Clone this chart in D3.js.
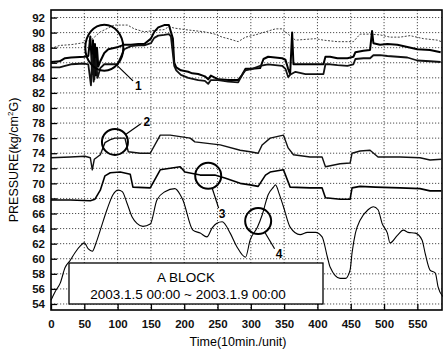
<!DOCTYPE html>
<html>
<head>
<meta charset="utf-8">
<script src="https://cdn.jsdelivr.net/npm/d3@7"></script>
<style>
    body { margin: 0; background: #fff; }
    svg { display: block; font-family: "Liberation Sans", Arial, sans-serif; }
    .grid line { stroke: #222; stroke-width: 0.8; stroke-dasharray: 1.2,1.8; }
    .tickText { font-size: 11.5px; font-weight: bold; fill: #111; }
</style>
</head>
<body>
<div id="chart"></div>
<script>

//- Data: pressure traces (x = 10 min units)
const timeA = [0, 13, 21, 30, 50, 56, 59, 62, 63, 65, 66, 68, 69, 71, 74, 80, 86, 101, 110, 120, 131, 140, 150, 155, 161, 170, 177, 180, 183, 185, 188, 195, 206, 212, 221, 231, 236, 240, 251, 266, 281, 287, 292, 302, 314, 319, 326, 347, 352, 356, 359, 362, 364, 367, 382, 397, 409, 412, 419, 430, 445, 454, 457, 469, 479, 482, 484, 494, 505, 520, 535, 550, 569, 585];
const pressA = [86.1, 86.2, 86.6, 86.7, 86.8, 86.9, 89.5, 84.5, 89.0, 83.8, 88.5, 84.3, 88.0, 85.5, 86.2, 87.3, 87.8, 88.1, 88.4, 88.4, 88.5, 88.5, 89.2, 90.1, 90.7, 91.0, 91.0, 90.1, 89.2, 86.0, 85.4, 85.0, 84.8, 84.6, 84.5, 84.2, 83.8, 84.3, 83.8, 83.7, 83.7, 84.4, 85.2, 85.2, 85.3, 86.5, 86.8, 86.6, 86.4, 85.2, 84.5, 90.0, 85.8, 85.8, 85.8, 85.8, 85.8, 86.8, 86.8, 86.6, 86.6, 86.8, 87.4, 87.6, 87.7, 90.2, 88.6, 88.4, 88.5, 88.4, 88.1, 87.8, 87.7, 87.4];

const timeB = [0, 13, 30, 45, 60, 74, 95, 115, 125, 140, 155, 170, 177, 185, 201, 231, 246, 257, 266, 281, 292, 307, 322, 337, 347, 352, 367, 382, 397, 409, 430, 454, 464, 479, 494, 509, 524, 539, 559, 580, 586];
const pressB = [87.9, 88.3, 88.4, 88.6, 89.0, 90.1, 91.0, 91.0, 90.5, 90.1, 90.3, 90.4, 90.8, 90.6, 90.4, 90.1, 89.8, 89.4, 89.2, 88.8, 89.4, 89.7, 90.1, 90.5, 90.5, 90.1, 89.0, 89.1, 89.2, 89.0, 88.8, 88.8, 89.8, 89.8, 89.7, 89.4, 89.4, 89.6, 89.2, 89.0, 88.8];

const timeC = [0, 13, 21, 30, 50, 56, 60, 62, 64, 67, 70, 74, 80, 100, 110, 120, 131, 140, 150, 155, 161, 170, 177, 180, 185, 188, 195, 206, 221, 231, 236, 240, 251, 266, 281, 287, 292, 302, 314, 326, 347, 352, 356, 359, 367, 382, 397, 409, 412, 419, 430, 445, 454, 457, 469, 479, 484, 494, 505, 520, 535, 550, 569, 585];
const pressC = [85.4, 85.4, 85.6, 85.8, 85.9, 85.8, 83.0, 87.0, 83.5, 86.5, 84.0, 85.3, 85.8, 85.8, 87.8, 88.2, 88.3, 88.3, 88.6, 89.3, 89.6, 89.7, 89.8, 89.5, 85.6, 85.0, 84.4, 84.0, 83.7, 83.6, 83.2, 83.7, 83.7, 83.5, 83.4, 84.4, 85.0, 85.2, 85.6, 85.8, 85.6, 85.2, 84.1, 84.4, 84.8, 84.5, 84.5, 84.5, 85.8, 85.8, 85.7, 85.6, 85.8, 86.5, 86.6, 86.6, 87.0, 87.0, 86.9, 86.8, 86.7, 86.3, 86.2, 86.1];

const timeD = [0, 29, 51, 59, 62, 65, 74, 81, 89, 96, 111, 116, 134, 149, 164, 179, 194, 209, 216, 254, 284, 299, 311, 317, 329, 349, 356, 364, 389, 407, 412, 434, 449, 452, 464, 479, 491, 524, 554, 569, 586];
const pressD = [73.4, 73.5, 73.6, 73.4, 71.8, 73.2, 73.8, 75.4, 75.8, 76.0, 76.0, 74.2, 74.0, 74.0, 76.4, 76.4, 76.2, 76.0, 75.5, 75.1, 74.4, 74.2, 74.0, 75.1, 76.0, 76.4, 74.7, 73.8, 73.5, 73.5, 72.2, 72.6, 72.7, 74.0, 74.3, 74.4, 73.5, 73.5, 73.4, 73.1, 73.2];

const timeE = [0, 29, 59, 66, 74, 81, 89, 104, 119, 123, 149, 164, 179, 194, 201, 224, 246, 261, 284, 299, 311, 322, 329, 349, 359, 389, 407, 412, 434, 449, 452, 464, 487, 524, 554, 569, 586];
const pressE = [67.8, 67.8, 67.7, 67.9, 69.1, 71.0, 71.4, 71.5, 71.2, 69.5, 69.4, 71.8, 72.0, 72.2, 71.5, 71.1, 71.1, 70.7, 70.0, 69.8, 69.6, 71.1, 71.5, 71.8, 69.5, 69.4, 69.4, 68.1, 67.9, 67.9, 69.4, 69.6, 69.5, 69.4, 69.3, 69.0, 69.0];

const timeF = [0, 6, 14, 21, 29, 36, 44, 50, 56, 62, 68, 74, 84, 93, 101, 107, 114, 122, 129, 138, 149, 159, 171, 186, 194, 198, 213, 224, 234, 242, 249, 257, 269, 279, 292, 299, 310, 317, 326, 334, 337, 343, 349, 359, 374, 385, 397, 407, 415, 419, 434, 442, 449, 452, 457, 464, 476, 484, 491, 497, 505, 509, 520, 529, 536, 547, 557, 562, 569, 577, 581, 588];
const pressF = [54.5, 55.6, 56.8, 58.8, 59.8, 60.8, 61.7, 62.1, 61.3, 61.0, 62.2, 63.8, 66.5, 68.5, 69.1, 68.9, 67.4, 65.5, 64.7, 64.3, 64.6, 67.8, 68.9, 69.3, 68.5, 67.8, 63.8, 63.4, 62.9, 64.1, 64.7, 64.9, 63.4, 61.6, 60.2, 62.5, 64.2, 65.8, 68.5, 69.5, 69.8, 68.5, 66.9, 64.2, 63.2, 63.5, 63.5, 62.9, 60.2, 58.9, 57.4, 57.4, 58.5, 60.8, 63.4, 65.1, 66.5, 66.9, 66.5, 64.7, 63.4, 62.1, 63.1, 63.8, 63.5, 63.4, 62.5, 60.6, 58.5, 58.1, 56.3, 55.0];

const xTickValues = [0, 50, 100, 150, 200, 250, 300, 350, 400, 450, 500, 550];
const yTickValues = [54, 56, 58, 60, 62, 64, 66, 68, 70, 72, 74, 76, 78, 80, 82, 84, 86, 88, 90, 92];

//- Annotation marks: [time, pressure, label]
const markNames = ["1", "2", "3", "4"];
const markTimes = [80, 96, 236, 311];
const markPress = [88.0, 75.5, 71.0, 65.0];

const legendTitle = "A BLOCK";
const legendRange = "2003.1.5 00:00 ~ 2003.1.9 00:00";


//- Layout
const svgWidth = 443;
const svgHeight = 349;
const plotLeft = 51, plotRight = 442, plotTop = 10, plotBottom = 310;

const svg = d3.select("#chart").append("svg")
    .attr("width", svgWidth)
    .attr("height", svgHeight);

const xScale = d3.scaleLinear().domain([0, 587]).range([plotLeft, plotRight]);
const yScale = d3.scaleLinear().domain([53.2, 93]).range([plotBottom, plotTop]);


//-- Grid
const gridGroup = svg.append("g").attr("class", "grid");

gridGroup.selectAll(".hgrid")
    .data(yTickValues)
    .enter()
    .append("line")
    .attr("x1", plotLeft).attr("x2", plotRight)
    .attr("y1", d => yScale(d)).attr("y2", d => yScale(d));

gridGroup.selectAll(".vgrid")
    .data(xTickValues.filter(d => d > 0))
    .enter()
    .append("line")
    .attr("x1", d => xScale(d)).attr("x2", d => xScale(d))
    .attr("y1", plotTop).attr("y2", plotBottom);


//-- Traces
function drawTrace(times, values, width, color, dash, curve){
    let pts = times.map((t, i) => [t, values[i]]);
    let line = d3.line()
        .x(d => xScale(d[0]))
        .y(d => yScale(d[1]))
        .curve(curve || d3.curveLinear);
    svg.append("path")
        .datum(pts)
        .attr("d", line)
        .attr("fill", "none")
        .attr("stroke", color)
        .attr("stroke-width", width)
        .attr("stroke-linejoin", "round")
        .attr("stroke-dasharray", dash);
}

drawTrace(timeB, pressB, 1, "#444", "2,1.5");
drawTrace(timeA, pressA, 2, "#000", null);
drawTrace(timeC, pressC, 1.8, "#111", null);
drawTrace(timeD, pressD, 1.4, "#111", null);
drawTrace(timeE, pressE, 1.6, "#000", null);
drawTrace(timeF, pressF, 1.1, "#000", null, d3.curveMonotoneX);


//-- Annotation circles
const markGroup = svg.append("g");
const markRadius = [[19, 23], [13, 13], [13, 13], [13, 13]];
const labelOffset = [[32, 37], [30, -21], [12, 37], [19, 32]];

markTimes.forEach((t, i) => {
    let cx = xScale(t), cy = yScale(markPress[i]);
    let rx = markRadius[i][0], ry = markRadius[i][1];
    markGroup.append("ellipse")
        .attr("cx", cx).attr("cy", cy)
        .attr("rx", rx).attr("ry", ry)
        .attr("fill", "none").attr("stroke", "#000").attr("stroke-width", 2);

    let lx = cx + labelOffset[i][0], ly = cy + labelOffset[i][1];
    let ang = Math.atan2(ly - cy, lx - cx);
    markGroup.append("line")
        .attr("x1", cx + rx * Math.cos(ang)).attr("y1", cy + ry * Math.sin(ang))
        .attr("x2", lx - 5 * Math.cos(ang)).attr("y2", ly - 5 * Math.sin(ang))
        .attr("stroke", "#000").attr("stroke-width", 1.2);
    markGroup.append("text")
        .attr("x", lx + 2).attr("y", ly + 5)
        .attr("font-size", "12px").attr("font-weight", "bold")
        .attr("text-anchor", "middle")
        .text(markNames[i]);
});


//-- Legend box
svg.append("rect")
    .attr("x", 69).attr("y", 263)
    .attr("width", 254).attr("height", 41)
    .attr("fill", "#fff").attr("stroke", "#000").attr("stroke-width", 1.3);

svg.append("text")
    .attr("x", 186).attr("y", 282)
    .attr("text-anchor", "middle").attr("font-size", "13.5px")
    .text(legendTitle);

svg.append("text")
    .attr("x", 188).attr("y", 299)
    .attr("text-anchor", "middle").attr("font-size", "13.5px")
    .text(legendRange);


//-- Axes (ticks point inward)
const yAxisGroup = svg.append("g").attr("transform", `translate(${plotLeft},0)`);
yAxisGroup.call(d3.axisLeft(yScale).tickValues(d3.range(54, 93, 1)).tickSize(-3).tickSizeOuter(0).tickFormat(""));
yAxisGroup.call(d3.axisLeft(yScale).tickValues(yTickValues).tickSize(-6).tickSizeOuter(0).tickPadding(6));
yAxisGroup.selectAll("text").attr("class", "tickText");

const xAxisGroup = svg.append("g").attr("transform", `translate(0,${plotBottom})`);
xAxisGroup.call(d3.axisBottom(xScale).tickValues(d3.range(25, 587, 50)).tickSize(-3).tickSizeOuter(0).tickFormat(""));
xAxisGroup.call(d3.axisBottom(xScale).tickValues(xTickValues).tickSize(-6).tickSizeOuter(0).tickPadding(10));
xAxisGroup.selectAll("text").attr("class", "tickText");
svg.selectAll(".domain").remove();
svg.selectAll(".tick line").attr("stroke", "#000").attr("stroke-width", 1.3);

//- Frame
svg.append("rect")
    .attr("x", plotLeft).attr("y", plotTop)
    .attr("width", plotRight - plotLeft).attr("height", plotBottom - plotTop)
    .attr("fill", "none").attr("stroke", "#000").attr("stroke-width", 1.6);


//-- Axis titles
svg.append("text")
    .attr("transform", `translate(18, ${(plotTop + plotBottom) / 2}) rotate(-90)`)
    .attr("text-anchor", "middle").attr("font-size", "12.5px")
    .html('PRESSURE(kg/cm<tspan dy="-5" font-size="8px">2</tspan><tspan dy="5">G)</tspan>');

svg.append("text")
    .attr("x", 238).attr("y", 346)
    .attr("text-anchor", "middle").attr("font-size", "12.5px")
    .text("Time(10min./unit)");

</script>
</body>
</html>
